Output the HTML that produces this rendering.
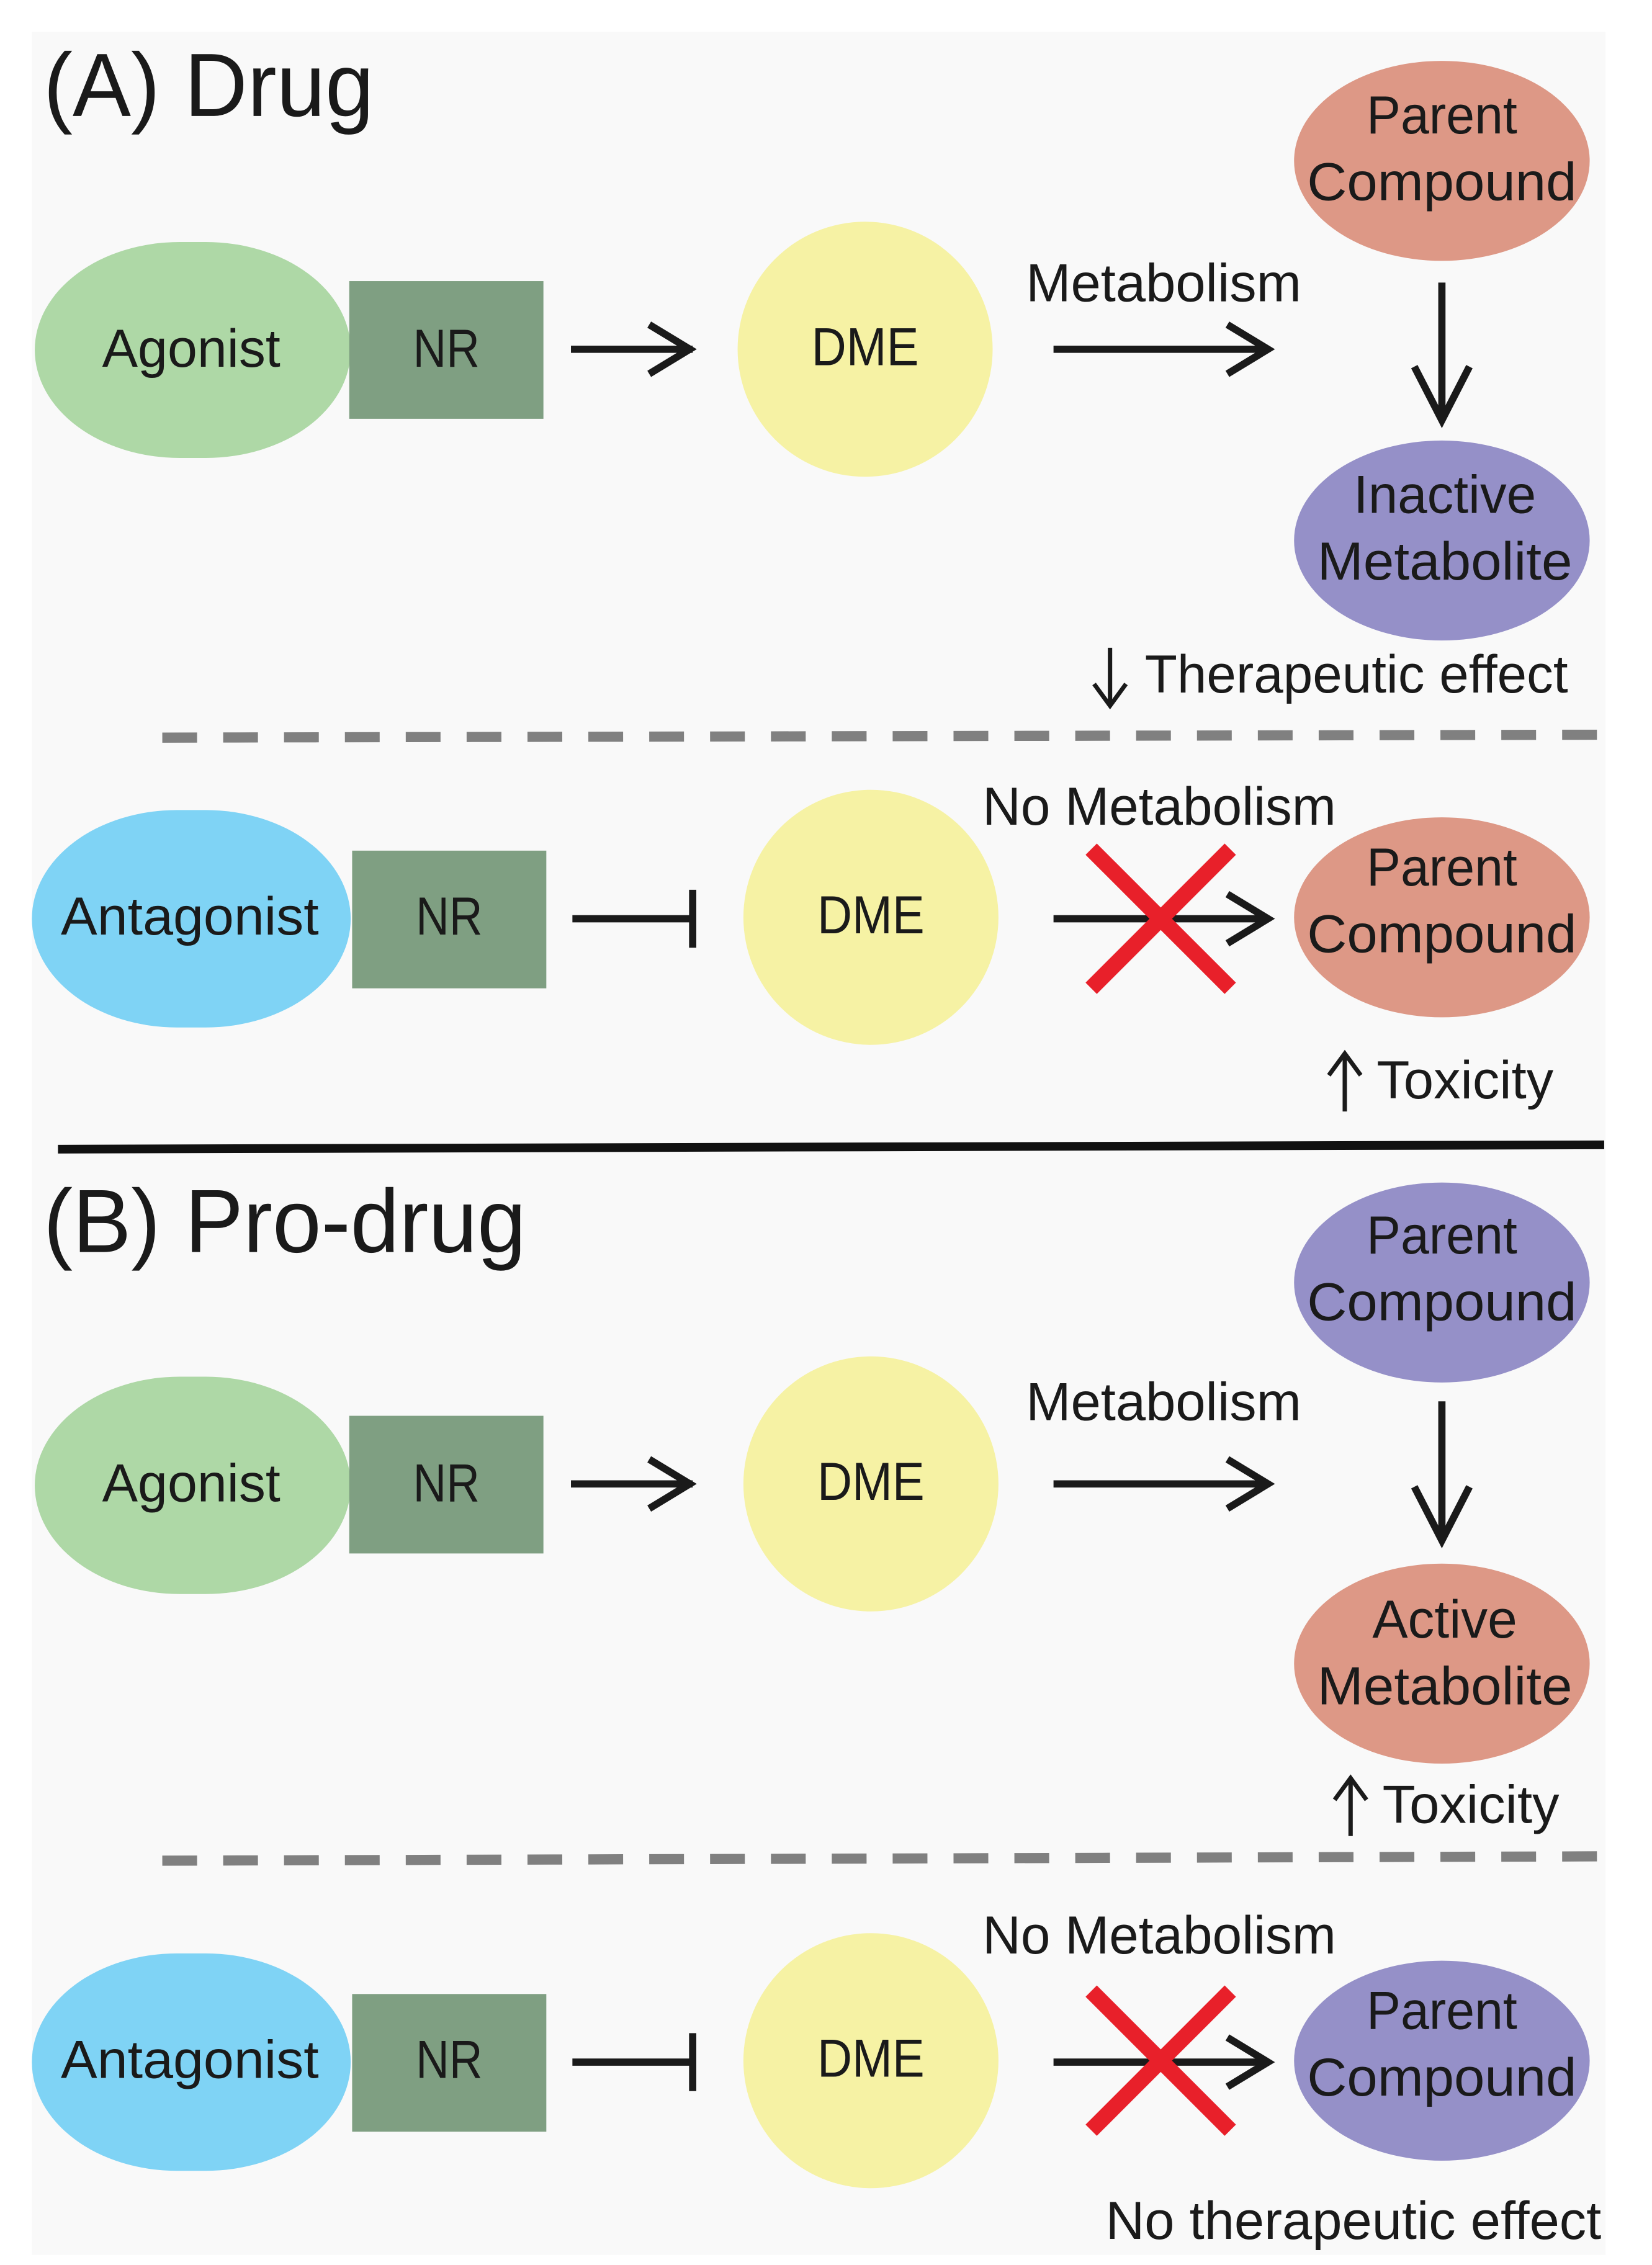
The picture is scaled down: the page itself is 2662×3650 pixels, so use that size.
<!DOCTYPE html>
<html><head><meta charset="utf-8"><style>
html,body{margin:0;padding:0;background:#fff;}
svg{display:block;}
text{font-family:"Liberation Sans",sans-serif;fill:#1a1a1a;}
</style></head><body>
<svg width="2662" height="3650" viewBox="0 0 1140 1563" preserveAspectRatio="none" xmlns="http://www.w3.org/2000/svg">
<defs>
<g id="arr"><line x1="0" y1="0" x2="-84" y2="0" stroke="#1a1a1a" stroke-width="5"/><polyline points="-30,-17 -2,0 -30,17" fill="none" stroke="#1a1a1a" stroke-width="5"/></g>
<g id="xx"><line x1="-48" y1="-48" x2="48" y2="48" stroke="#e8202a" stroke-width="11"/><line x1="48" y1="-48" x2="-48" y2="48" stroke="#e8202a" stroke-width="11"/></g>
</defs>
<rect x="22" y="22" width="1086" height="1534" fill="#f9f9f9"/>

<text x="30" y="80" font-size="62" textLength="228" lengthAdjust="spacingAndGlyphs">(A) Drug</text>
<!-- row 1 -->
<rect x="24" y="167" width="218" height="149" rx="100" ry="75" fill="#aed8a6"/>
<text x="132" y="253" font-size="37" text-anchor="middle" textLength="123" lengthAdjust="spacingAndGlyphs">Agonist</text>
<rect x="241" y="194" width="134" height="95" fill="#7f9f82"/>
<text x="308" y="253" font-size="37" text-anchor="middle" textLength="46" lengthAdjust="spacingAndGlyphs">NR</text>
<use href="#arr" x="478" y="241"/>
<circle cx="597" cy="241" r="88" fill="#f6f2a4"/>
<text x="597" y="252" font-size="37" text-anchor="middle" textLength="74" lengthAdjust="spacingAndGlyphs">DME</text>
<text x="803" y="208" font-size="37" text-anchor="middle" textLength="190" lengthAdjust="spacingAndGlyphs">Metabolism</text>
<line x1="727" y1="241" x2="875" y2="241" stroke="#1a1a1a" stroke-width="5"/><polyline points="847,224 875,241 847,258" fill="none" stroke="#1a1a1a" stroke-width="5"/>
<ellipse cx="995" cy="111" rx="102" ry="69" fill="#dd9886"/>
<text x="995" y="92" font-size="37" text-anchor="middle" textLength="104" lengthAdjust="spacingAndGlyphs">Parent</text>
<text x="995" y="138" font-size="37" text-anchor="middle" textLength="186" lengthAdjust="spacingAndGlyphs">Compound</text>
<line x1="995" y1="195" x2="995" y2="290" stroke="#1a1a1a" stroke-width="5"/><polyline points="976,253 995,290 1014,253" fill="none" stroke="#1a1a1a" stroke-width="5"/>
<ellipse cx="995" cy="373" rx="102" ry="69" fill="#9590c8"/>
<text x="997" y="354" font-size="37" text-anchor="middle" textLength="126" lengthAdjust="spacingAndGlyphs">Inactive</text>
<text x="997" y="400" font-size="37" text-anchor="middle" textLength="176" lengthAdjust="spacingAndGlyphs">Metabolite</text>
<line x1="766" y1="447" x2="766" y2="486" stroke="#1a1a1a" stroke-width="3"/><polyline points="755,472 766,487 777,472" fill="none" stroke="#1a1a1a" stroke-width="3"/>
<text x="790" y="478" font-size="37" textLength="292" lengthAdjust="spacingAndGlyphs">Therapeutic effect</text>
<line x1="112" y1="509" x2="1105" y2="507" stroke="#808080" stroke-width="7" stroke-dasharray="24,18"/>
<!-- row 2 -->
<rect x="22" y="559" width="220" height="150" rx="100" ry="75" fill="#7fd3f5"/>
<text x="131" y="645" font-size="37" text-anchor="middle" textLength="178" lengthAdjust="spacingAndGlyphs">Antagonist</text>
<rect x="243" y="587" width="134" height="95" fill="#7f9f82"/>
<text x="310" y="645" font-size="37" text-anchor="middle" textLength="46" lengthAdjust="spacingAndGlyphs">NR</text>
<line x1="395" y1="634" x2="478" y2="634" stroke="#1a1a1a" stroke-width="5"/><line x1="478" y1="614" x2="478" y2="654" stroke="#1a1a1a" stroke-width="5"/>
<circle cx="601" cy="633" r="88" fill="#f6f2a4"/>
<text x="601" y="644" font-size="37" text-anchor="middle" textLength="74" lengthAdjust="spacingAndGlyphs">DME</text>
<text x="800" y="569" font-size="37" text-anchor="middle" textLength="244" lengthAdjust="spacingAndGlyphs">No Metabolism</text>
<line x1="727" y1="634" x2="875" y2="634" stroke="#1a1a1a" stroke-width="5"/><polyline points="847,617 875,634 847,651" fill="none" stroke="#1a1a1a" stroke-width="5"/>
<use href="#xx" x="801" y="634"/>
<ellipse cx="995" cy="633" rx="102" ry="69" fill="#dd9886"/>
<text x="995" y="611" font-size="37" text-anchor="middle" textLength="104" lengthAdjust="spacingAndGlyphs">Parent</text>
<text x="995" y="657" font-size="37" text-anchor="middle" textLength="186" lengthAdjust="spacingAndGlyphs">Compound</text>
<line x1="928" y1="767" x2="928" y2="728" stroke="#1a1a1a" stroke-width="3"/><polyline points="917,742 928,727 939,742" fill="none" stroke="#1a1a1a" stroke-width="3"/>
<text x="950" y="758" font-size="37" textLength="122" lengthAdjust="spacingAndGlyphs">Toxicity</text>
<line x1="40" y1="793" x2="1107" y2="790" stroke="#111" stroke-width="6"/>

<text x="30" y="864" font-size="62" textLength="333" lengthAdjust="spacingAndGlyphs">(B) Pro-drug</text>
<ellipse cx="995" cy="885" rx="102" ry="69" fill="#9590c8"/>
<text x="995" y="865" font-size="37" text-anchor="middle" textLength="104" lengthAdjust="spacingAndGlyphs">Parent</text>
<text x="995" y="911" font-size="37" text-anchor="middle" textLength="186" lengthAdjust="spacingAndGlyphs">Compound</text>
<rect x="24" y="950" width="218" height="150" rx="100" ry="75" fill="#aed8a6"/>
<text x="132" y="1036" font-size="37" text-anchor="middle" textLength="123" lengthAdjust="spacingAndGlyphs">Agonist</text>
<rect x="241" y="977" width="134" height="95" fill="#7f9f82"/>
<text x="308" y="1036" font-size="37" text-anchor="middle" textLength="46" lengthAdjust="spacingAndGlyphs">NR</text>
<use href="#arr" x="478" y="1024"/>
<circle cx="601" cy="1024" r="88" fill="#f6f2a4"/>
<text x="601" y="1035" font-size="37" text-anchor="middle" textLength="74" lengthAdjust="spacingAndGlyphs">DME</text>
<text x="803" y="980" font-size="37" text-anchor="middle" textLength="190" lengthAdjust="spacingAndGlyphs">Metabolism</text>
<line x1="727" y1="1024" x2="875" y2="1024" stroke="#1a1a1a" stroke-width="5"/><polyline points="847,1007 875,1024 847,1041" fill="none" stroke="#1a1a1a" stroke-width="5"/>
<line x1="995" y1="967" x2="995" y2="1063" stroke="#1a1a1a" stroke-width="5"/><polyline points="976,1026 995,1063 1014,1026" fill="none" stroke="#1a1a1a" stroke-width="5"/>
<ellipse cx="995" cy="1148" rx="102" ry="69" fill="#dd9886"/>
<text x="997" y="1130" font-size="37" text-anchor="middle" textLength="100" lengthAdjust="spacingAndGlyphs">Active</text>
<text x="997" y="1176" font-size="37" text-anchor="middle" textLength="176" lengthAdjust="spacingAndGlyphs">Metabolite</text>
<line x1="932" y1="1267" x2="932" y2="1228" stroke="#1a1a1a" stroke-width="3"/><polyline points="921,1242 932,1227 943,1242" fill="none" stroke="#1a1a1a" stroke-width="3"/>
<text x="954" y="1258" font-size="37" textLength="122" lengthAdjust="spacingAndGlyphs">Toxicity</text>
<line x1="112" y1="1284" x2="1105" y2="1281" stroke="#808080" stroke-width="7" stroke-dasharray="24,18"/>
<!-- row 4 -->
<rect x="22" y="1348" width="220" height="150" rx="100" ry="75" fill="#7fd3f5"/>
<text x="131" y="1434" font-size="37" text-anchor="middle" textLength="178" lengthAdjust="spacingAndGlyphs">Antagonist</text>
<rect x="243" y="1376" width="134" height="95" fill="#7f9f82"/>
<text x="310" y="1434" font-size="37" text-anchor="middle" textLength="46" lengthAdjust="spacingAndGlyphs">NR</text>
<line x1="395" y1="1423" x2="478" y2="1423" stroke="#1a1a1a" stroke-width="5"/><line x1="478" y1="1403" x2="478" y2="1443" stroke="#1a1a1a" stroke-width="5"/>
<circle cx="601" cy="1422" r="88" fill="#f6f2a4"/>
<text x="601" y="1433" font-size="37" text-anchor="middle" textLength="74" lengthAdjust="spacingAndGlyphs">DME</text>
<text x="800" y="1348" font-size="37" text-anchor="middle" textLength="244" lengthAdjust="spacingAndGlyphs">No Metabolism</text>
<line x1="727" y1="1423" x2="875" y2="1423" stroke="#1a1a1a" stroke-width="5"/><polyline points="847,1406 875,1423 847,1440" fill="none" stroke="#1a1a1a" stroke-width="5"/>
<use href="#xx" x="801" y="1422"/>
<ellipse cx="995" cy="1422" rx="102" ry="69" fill="#9590c8"/>
<text x="995" y="1400" font-size="37" text-anchor="middle" textLength="104" lengthAdjust="spacingAndGlyphs">Parent</text>
<text x="995" y="1446" font-size="37" text-anchor="middle" textLength="186" lengthAdjust="spacingAndGlyphs">Compound</text>
<text x="1105" y="1545" font-size="37" text-anchor="end" textLength="342" lengthAdjust="spacingAndGlyphs">No therapeutic effect</text>
</svg>
</body></html>
